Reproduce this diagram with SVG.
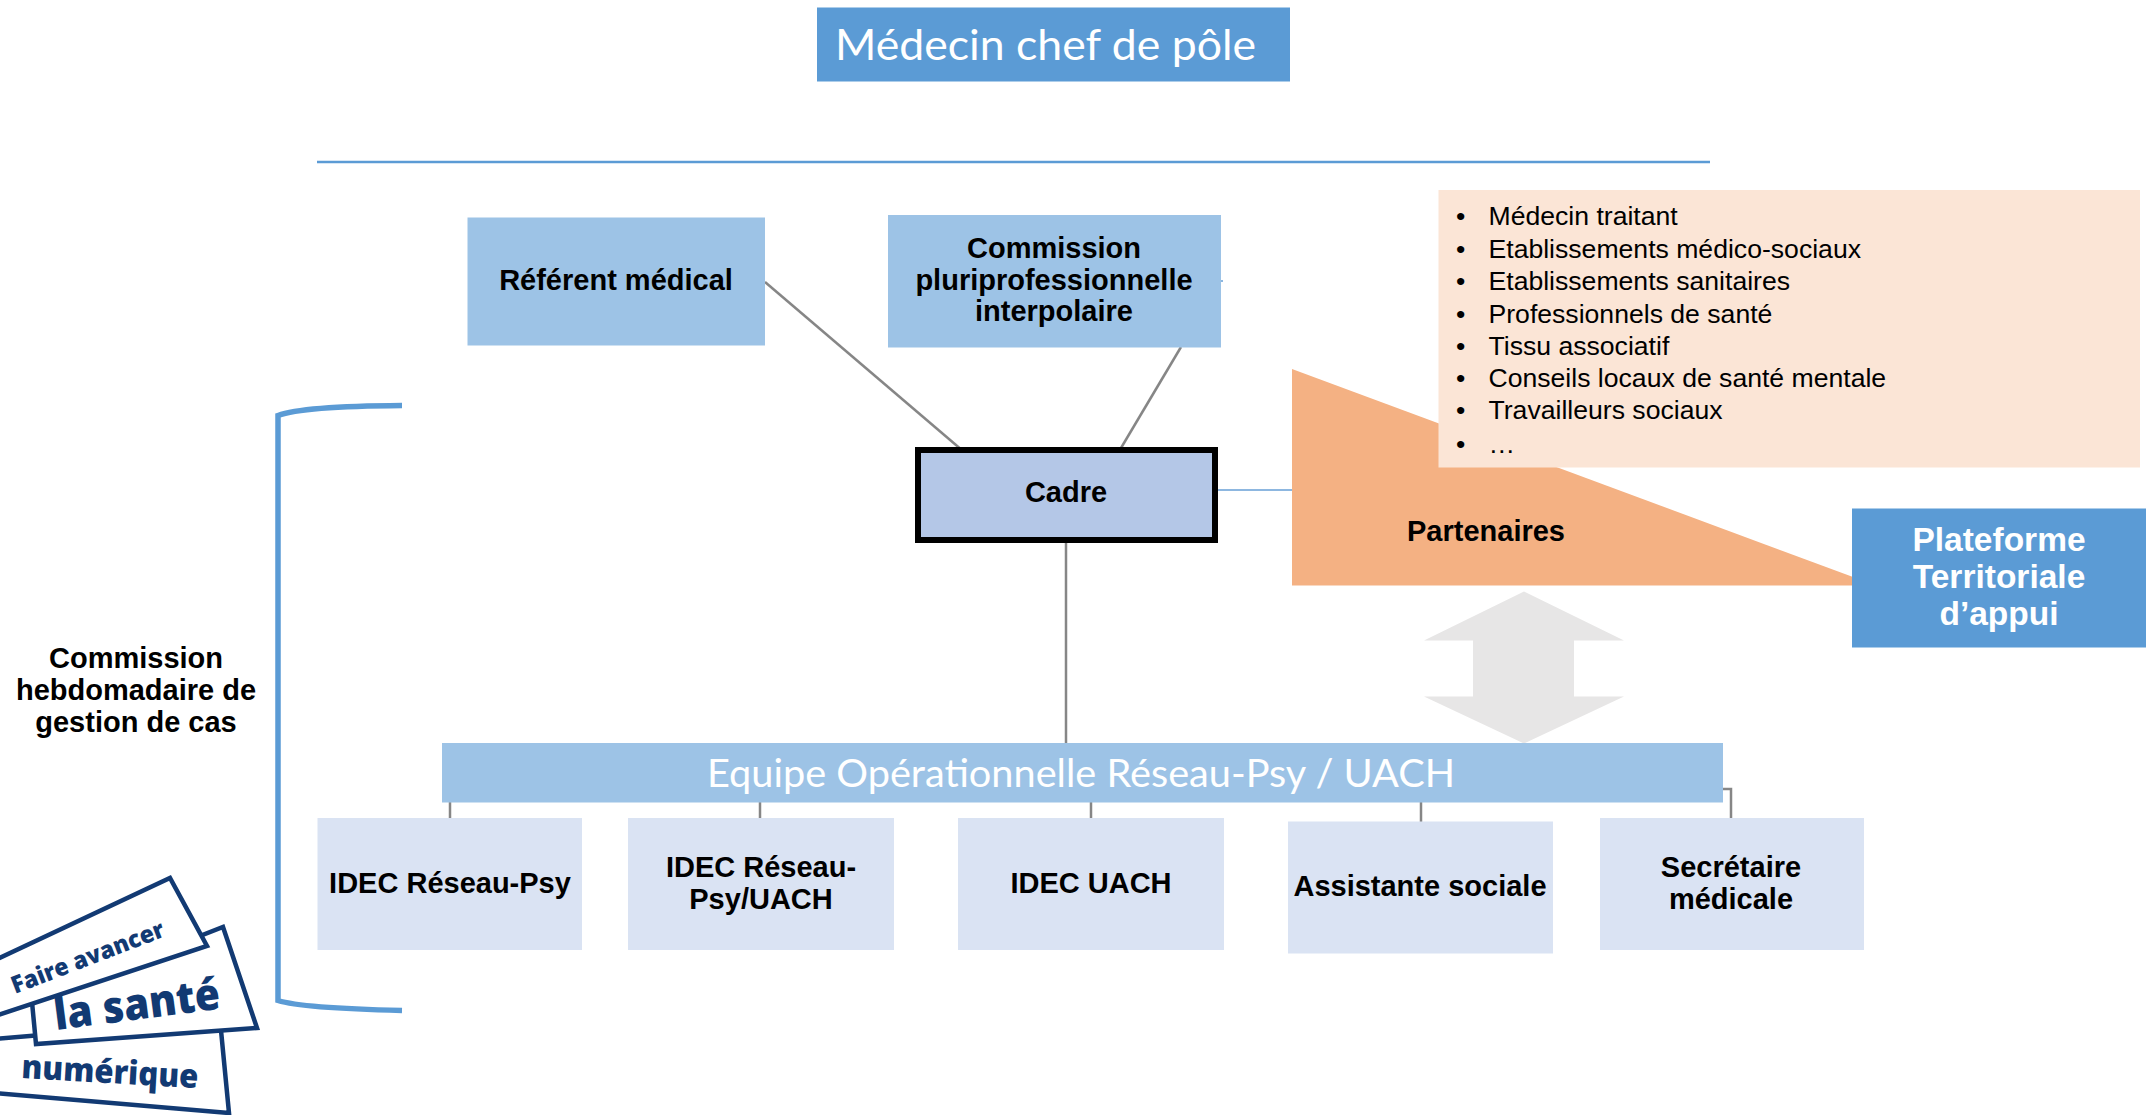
<svg xmlns="http://www.w3.org/2000/svg" width="2146" height="1115" viewBox="0 0 2146 1115">
<style>
.b{font-family:"Liberation Sans",Arial,sans-serif;font-weight:700;font-size:29px;fill:#000;text-anchor:middle}
.l{font-family:"Liberation Sans",Arial,sans-serif;font-size:26.6px;fill:#000}
.w{font-family:"Liberation Sans",Arial,sans-serif;font-weight:700;font-size:33.5px;fill:#fff;text-anchor:middle}
.c{font-family:Lato,"Open Sans",sans-serif;fill:#fff}
.m{fill:#9DC3E6}
.s{fill:#DAE3F3}
.g{stroke:#868686;stroke-width:2.5;fill:none}
.card{fill:#fff;stroke:#123A73;stroke-width:4.5;stroke-linejoin:miter}
.t{font-family:"Open Sans",Lato,sans-serif;font-weight:800;fill:#123A73}
</style>
<rect width="2146" height="1115" fill="#fff"/>
<g id="connectors">
<line x1="317" y1="162" x2="1710" y2="162" stroke="#5B9BD5" stroke-width="2.5"/>
<line class="g" x1="765" y1="282" x2="959.5" y2="448"/>
<line class="g" x1="1181" y1="347" x2="1121" y2="448"/>
<line class="g" x1="1066" y1="540" x2="1066" y2="743"/>
<line x1="1218" y1="490" x2="1293" y2="490" stroke="#8DB7E0" stroke-width="2"/>
<line x1="1221" y1="281" x2="1223" y2="281" stroke="#8DB7E0" stroke-width="2"/>
<line class="g" x1="450" y1="802" x2="450" y2="818"/>
<line class="g" x1="760" y1="802" x2="760" y2="818"/>
<line class="g" x1="1091" y1="802" x2="1091" y2="818"/>
<line class="g" x1="1421" y1="802" x2="1421" y2="822"/>
<path class="g" d="M1723 789H1731V818"/>
</g>
<g id="chef"><rect x="817" y="7.500" width="473" height="74" fill="#5B9BD5"/><text class="c" x="835" y="60" font-size="43" textLength="421" lengthAdjust="spacingAndGlyphs">Médecin chef de pôle</text></g>
<g id="referent"><rect class="m" x="467.500" y="217.500" width="297.500" height="128"/><text class="b" x="616" y="290">Référent médical</text></g>
<g id="commission"><rect class="m" x="888" y="215" width="333" height="132.500"/><text class="b" x="1054" y="258">Commission</text><text class="b" x="1054" y="290">pluriprofessionnelle</text><text class="b" x="1054" y="321">interpolaire</text></g>
<g id="cadre"><rect x="918" y="450" width="297" height="90" fill="#B4C7E7" stroke="#000" stroke-width="6"/><text class="b" x="1066" y="502">Cadre</text></g>
<g id="partenaires"><polygon points="1292,369 1876,585.500 1292,585.500" fill="#F4B183"/><text class="b" x="1486" y="541">Partenaires</text></g>
<g id="liste"><rect x="1438.500" y="190" width="701.500" height="277.500" fill="#FBE5D6"/>
<g class="l">
<text x="1456" y="225">•</text><text x="1488.500" y="225">Médecin traitant</text>
<text x="1456" y="258">•</text><text x="1488.500" y="258">Etablissements médico-sociaux</text>
<text x="1456" y="290">•</text><text x="1488.500" y="290">Etablissements sanitaires</text>
<text x="1456" y="322.500">•</text><text x="1488.500" y="322.500">Professionnels de santé</text>
<text x="1456" y="354.500">•</text><text x="1488.500" y="354.500">Tissu associatif</text>
<text x="1456" y="386.500">•</text><text x="1488.500" y="386.500">Conseils locaux de santé mentale</text>
<text x="1456" y="418.500">•</text><text x="1488.500" y="418.500">Travailleurs sociaux</text>
<text x="1456" y="453">•</text><text x="1488.500" y="453">…</text>
</g></g>
<g id="plateforme"><rect x="1852" y="508.500" width="294" height="139" fill="#5B9BD5"/><text class="w" x="1999" y="551">Plateforme</text><text class="w" x="1999" y="588">Territoriale</text><text class="w" x="1999" y="625">d’appui</text></g>
<g id="fleche"><polygon points="1524,591.500 1624,640.500 1574,640.500 1574,696.500 1624,696.500 1524,743.500 1424,696.500 1473,696.500 1473,640.500 1424,640.500" fill="#E7E6E6"/></g>
<g id="equipe"><rect class="m" x="442" y="743" width="1281" height="59.500"/><text class="c" x="707" y="787" font-size="39" textLength="748" lengthAdjust="spacingAndGlyphs">Equipe Opérationnelle Réseau-Psy / UACH</text></g>
<g id="idec-reseau"><rect class="s" x="317.500" y="818" width="264.500" height="132"/><text class="b" x="450" y="893">IDEC Réseau-Psy</text></g>
<g id="idec-reseau-uach"><rect class="s" x="628" y="818" width="266" height="132"/><text class="b" x="761" y="877">IDEC Réseau-</text><text class="b" x="761" y="909">Psy/UACH</text></g>
<g id="idec-uach"><rect class="s" x="958" y="818" width="266" height="132"/><text class="b" x="1091" y="893">IDEC UACH</text></g>
<g id="assistante"><rect class="s" x="1288" y="821.500" width="265" height="132"/><text class="b" x="1420" y="896">Assistante sociale</text></g>
<g id="secretaire"><rect class="s" x="1600" y="818" width="264" height="132"/><text class="b" x="1731" y="877">Secrétaire</text><text class="b" x="1731" y="909">médicale</text></g>
<g id="commission-hebdo"><path d="M402 405.500C340 406 295 409 278 415.500V1000.500C295 1006 340 1009 402 1010.500" fill="none" stroke="#5B9BD5" stroke-width="5.500"/><text class="b" x="136" y="668">Commission</text><text class="b" x="136" y="700">hebdomadaire de</text><text class="b" x="136" y="732">gestion de cas</text></g>
<g id="logo">
<polygon class="card" points="-5,1039 220,1020 229,1113 -5,1093"/>
<polygon class="card" points="32,1002 223,927 257,1028 36,1044"/>
<polygon class="card" points="-5,960 170,878 207,946 -5,1016"/>
<text class="t" transform="translate(15 994) rotate(-21)" font-size="24" textLength="162" lengthAdjust="spacingAndGlyphs">Faire avancer</text>
<text class="t" transform="translate(56 1030) rotate(-7.400)" font-size="44" textLength="167" lengthAdjust="spacingAndGlyphs">la santé</text>
<text class="t" transform="translate(21 1078) rotate(3.300)" font-size="33" textLength="177" lengthAdjust="spacingAndGlyphs">numérique</text>
</g>
</svg>
